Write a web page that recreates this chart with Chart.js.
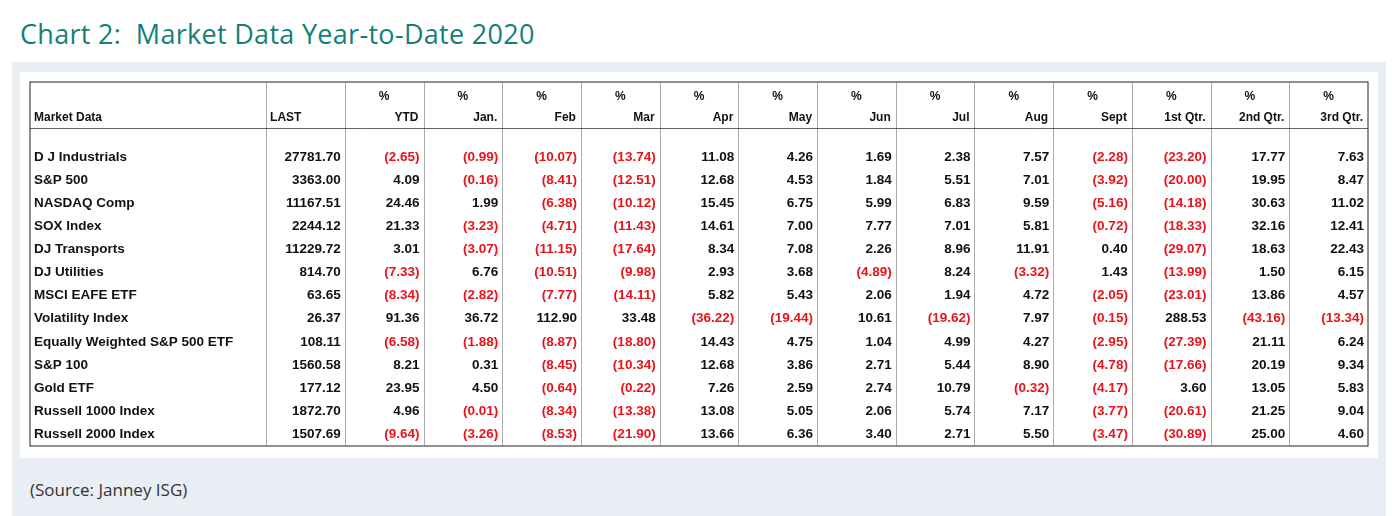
<!DOCTYPE html>
<html><head><meta charset="utf-8">
<script src="https://cdn.jsdelivr.net/npm/chart.js@4"></script>
<style>
body{margin:0;width:1392px;height:516px;background:#fff;position:relative;overflow:hidden;font-family:"Open Sans",sans-serif}
#title{position:absolute;left:20px;top:15px;font-size:27px;color:#147f78;letter-spacing:0.3px}
#panel{position:absolute;left:12px;top:62px;width:1374px;height:454px;background:#e9eef5}
#box{position:absolute;left:20px;top:72px;width:1358px;height:386px;background:#fff}
#src{position:absolute;left:30px;top:478px;font-size:17px;color:#333}
#wrap{position:absolute;left:0;top:0;width:1392px;height:516px}
</style></head><body>
<div id="title">Chart 2:&nbsp; Market Data Year-to-Date 2020</div>
<div id="panel"></div><div id="box"></div>
<div id="src">(Source: Janney ISG)</div>
<div id="wrap"><canvas id="tableChart"></canvas></div>
<script>
const periods = ['LAST', 'YTD', 'Jan.', 'Feb', 'Mar', 'Apr', 'May', 'Jun', 'Jul', 'Aug', 'Sept', '1st Qtr.', '2nd Qtr.', '3rd Qtr.'];
const names = ['D J Industrials', 'S&P 500', 'NASDAQ Comp', 'SOX Index', 'DJ Transports', 'DJ Utilities', 'MSCI EAFE ETF',
    'Volatility Index', 'Equally Weighted S&P 500 ETF', 'S&P 100', 'Gold ETF', 'Russell 1000 Index', 'Russell 2000 Index'];
const djIndustrials = [27781.70, -2.65, -0.99, -10.07, -13.74, 11.08, 4.26, 1.69, 2.38, 7.57, -2.28, -23.20, 17.77, 7.63];
const sp500 = [3363.00, 4.09, -0.16, -8.41, -12.51, 12.68, 4.53, 1.84, 5.51, 7.01, -3.92, -20.00, 19.95, 8.47];
const nasdaq = [11167.51, 24.46, 1.99, -6.38, -10.12, 15.45, 6.75, 5.99, 6.83, 9.59, -5.16, -14.18, 30.63, 11.02];
const sox = [2244.12, 21.33, -3.23, -4.71, -11.43, 14.61, 7.00, 7.77, 7.01, 5.81, -0.72, -18.33, 32.16, 12.41];
const djTransports = [11229.72, 3.01, -3.07, -11.15, -17.64, 8.34, 7.08, 2.26, 8.96, 11.91, 0.40, -29.07, 18.63, 22.43];
const djUtilities = [814.70, -7.33, 6.76, -10.51, -9.98, 2.93, 3.68, -4.89, 8.24, -3.32, 1.43, -13.99, 1.50, 6.15];
const msciEafe = [63.65, -8.34, -2.82, -7.77, -14.11, 5.82, 5.43, 2.06, 1.94, 4.72, -2.05, -23.01, 13.86, 4.57];
const volatility = [26.37, 91.36, 36.72, 112.90, 33.48, -36.22, -19.44, 10.61, -19.62, 7.97, -0.15, 288.53, -43.16, -13.34];
const eqWeighted = [108.11, -6.58, -1.88, -8.87, -18.80, 14.43, 4.75, 1.04, 4.99, 4.27, -2.95, -27.39, 21.11, 6.24];
const sp100 = [1560.58, 8.21, 0.31, -8.45, -10.34, 12.68, 3.86, 2.71, 5.44, 8.90, -4.78, -17.66, 20.19, 9.34];
const goldEtf = [177.12, 23.95, 4.50, -0.64, -0.22, 7.26, 2.59, 2.74, 10.79, -0.32, -4.17, 3.60, 13.05, 5.83];
const russell1000 = [1872.70, 4.96, -0.01, -8.34, -13.38, 13.08, 5.05, 2.06, 5.74, 7.17, -3.77, -20.61, 21.25, 9.04];
const russell2000 = [1507.69, -9.64, -3.26, -8.53, -21.90, 13.66, 6.36, 3.40, 2.71, 5.50, -3.47, -30.89, 25.00, 4.60];
const rows = [djIndustrials, sp500, nasdaq, sox, djTransports, djUtilities, msciEafe, volatility, eqWeighted, sp100, goldEtf, russell1000, russell2000];

// column 0 (names) spans 3 units, every other column 1 unit
const points = [];
rows.forEach((r, i) => r.forEach((v, j) => points.push({ x: 3.5 + j, y: 3.25 + i, v: v })));

const fmt = v => v < 0 ? '(' + Math.abs(v).toFixed(2) + ')' : v.toFixed(2);

const tablePlugin = {
    id: 'table',
    afterDatasetsDraw(chart) {
        const c = chart.ctx, xs = chart.scales.x, ys = chart.scales.y, a = chart.chartArea;
        c.save();
        c.strokeStyle = '#222';
        c.lineWidth = 1;
        c.strokeRect(a.left, a.top, a.right - a.left, a.bottom - a.top);
        c.lineWidth = 0.7;
        c.strokeStyle = '#888';
        for (let u = 3; u < 17; u++) {
            const px = Math.round(xs.getPixelForValue(u)) + 0.5;
            c.beginPath(); c.moveTo(px, a.top); c.lineTo(px, a.bottom); c.stroke();
        }
        const hy = Math.round(ys.getPixelForValue(2.0)) + 0.5;
        c.strokeStyle = '#222';
        c.beginPath(); c.moveTo(a.left, hy); c.lineTo(a.right, hy); c.stroke();
        c.fillStyle = '#111';
        c.font = 'bold 12px "Liberation Sans", Arial, sans-serif';
        c.textBaseline = 'middle';
        const yPct = ys.getPixelForValue(0.65), yLab = ys.getPixelForValue(1.56);
        c.textAlign = 'left';
        c.fillText('Market Data', a.left + 4, yLab);
        c.fillText(periods[0], xs.getPixelForValue(3) + 4, yLab);
        periods.slice(1).forEach((p, k) => {
            const cx = xs.getPixelForValue(4.5 + k);
            c.textAlign = 'center'; c.fillText('%', cx, yPct);
            c.textAlign = 'right'; c.fillText(p, xs.getPixelForValue(5 + k) - 5, yLab);
        });
        c.font = 'bold 13.5px "Liberation Sans", Arial, sans-serif';
        c.textAlign = 'left';
        names.forEach((n, i) => c.fillText(n, a.left + 4, ys.getPixelForValue(3.25 + i)));
        const half = xs.getPixelForValue(0.5) - xs.getPixelForValue(0);
        c.textAlign = 'right';
        chart.getDatasetMeta(0).data.forEach((el, i) => {
            const v = points[i].v;
            c.fillStyle = v < 0 ? '#e8141b' : '#111';
            c.fillText(fmt(v), el.x + half - 4, el.y);
        });
        c.restore();
    }
};

new Chart(document.getElementById('tableChart').getContext('2d'), {
    type: 'scatter',
    data: { datasets: [{ data: points, pointRadius: 0, pointHoverRadius: 0 }] },
    options: {
        responsive: true,
        maintainAspectRatio: false,
        animation: false,
        layout: { padding: { left: 30, top: 82, right: 24, bottom: 70 } },
        plugins: { legend: { display: false }, tooltip: { enabled: false } },
        scales: {
            x: { type: 'linear', min: 0, max: 17, display: false },
            y: { type: 'linear', min: 0, max: 15.76, reverse: true, display: false }
        }
    },
    plugins: [tablePlugin]
});
</script>
</body></html>
